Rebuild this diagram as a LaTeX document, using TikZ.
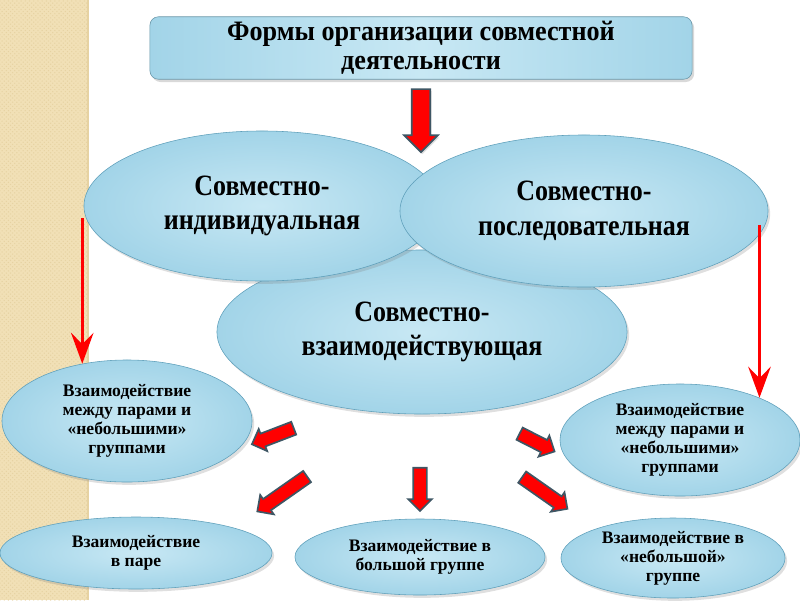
\documentclass[tikz,border=0pt]{standalone}
\usepackage{fontspec}
\setmainfont{Liberation Serif}
\newfontfamily\narrowserif{Liberation Serif}[FakeStretch=0.88]
\newfontfamily\titleserif{Liberation Serif}[FakeStretch=0.93]
\usetikzlibrary{shapes.geometric,shapes.arrows,shadows,patterns,arrows.meta}

\definecolor{skyLight}{HTML}{C8E8F4}
\definecolor{skyDeep}{HTML}{A2D4E8}
\definecolor{skyLine}{HTML}{5E9FBA}
\definecolor{sand}{HTML}{F1E0B6}
\definecolor{sandDot}{HTML}{E6D2A2}
\definecolor{arrowRed}{HTML}{FF0000}
\definecolor{arrowEdge}{HTML}{3E5664}

\begin{document}
\begin{tikzpicture}[x=0.025cm,y=-0.025cm,>=stealth]
    \tikzstyle{blob}=[ellipse, draw=skyLine, inner color=skyLight, outer color=skyDeep, align=center, inner sep=0pt, drop shadow={opacity=0.25,shadow xshift=1.5pt,shadow yshift=-2pt}]
    \tikzstyle{bigtext}=[font=\narrowserif\fontsize{21}{24.5}\selectfont\bfseries]
    \tikzstyle{smalltext}=[font=\fontsize{12.5}{13.5}\selectfont\bfseries]
    \tikzstyle{fat}=[single arrow, draw=arrowEdge, fill=arrowRed, line width=1.2pt, inner sep=0.15cm, single arrow head extend=0.125cm, minimum width=0.55cm]
    \tikzstyle{thin}=[draw=arrowRed, line width=2.2pt, -{Stealth[length=22pt,width=16pt,inset=8pt]}]

    \useasboundingbox (0,0) rectangle (800,600);
    \fill[sand] (0,0) rectangle (88,600);
    \fill[pattern=crosshatch dots, pattern color=sandDot] (0,0) rectangle (88,600);
    \draw[sandDot, line width=1pt] (88,0) -- (88,600);

    \node[draw=skyLine!70!gray, rounded corners=6pt, left color=skyDeep, right color=skyDeep, middle color=skyLight, minimum width=13.55cm, minimum height=1.5cm, align=center, font=\titleserif\fontsize{20}{20.5}\selectfont\bfseries, drop shadow={opacity=0.3,shadow xshift=1.5pt,shadow yshift=-2pt}] (title) at (421,48)
    {Формы организации совместной\\деятельности};

    \node[blob, bigtext, minimum width=10.25cm, minimum height=4.1cm] (interact) at (422,332)
    {Совместно-\\взаимодействующая};
    \node[blob, bigtext, minimum width=8.9cm, minimum height=3.75cm] (indiv) at (262,206)
    {Совместно-\\индивидуальная};
    \node[blob, bigtext, minimum width=9.2cm, minimum height=3.8cm] (consec) at (584,211)
    {Совместно-\\последовательная};

    \node[blob, smalltext, minimum width=6.25cm, minimum height=3.05cm] (pairsL) at (127,421)
    {Взаимодействие\\между парами и\\«небольшими»\\группами};
    \node[blob, smalltext, minimum width=6cm, minimum height=2.8cm] (pairsR) at (680,440)
    {Взаимодействие\\между парами и\\«небольшими»\\группами};
    \node[blob, smalltext, minimum width=6.8cm, minimum height=1.8cm] (pair) at (136,553)
    {Взаимодействие\\в паре};
    \node[blob, smalltext, minimum width=6.25cm, minimum height=1.9cm] (bigGroup) at (420,557)
    {Взаимодействие в\\большой группе};
    \node[blob, smalltext, minimum width=5.6cm, minimum height=2cm] (smallGroup) at (673,558)
    {Взаимодействие в\\«небольшой»\\группе};

    \node[fat, minimum height=1.575cm, minimum width=0.8cm, inner sep=0.21cm, single arrow head extend=0.19cm, rotate=270, drop shadow={opacity=0.25,shadow xshift=1pt,shadow yshift=-1.5pt}] (arTop) at (421,116) {};
    \node[fat, minimum height=1.12cm, rotate=201] (ar1) at (276,435) {};
    \node[fat, minimum height=1.52cm, rotate=215] (ar2) at (285,492) {};
    \node[fat, minimum height=1.08cm, rotate=270] (ar3) at (420,486) {};
    \node[fat, minimum height=0.98cm, rotate=-27] (ar4) at (534,441) {};
    \node[fat, minimum height=1.38cm, rotate=-35] (ar5) at (542,491) {};

    \draw[thin] ([yshift=-0.3cm]pairsL.128 |- indiv.west) -- (pairsL.128);
    \draw[thin] ([yshift=-0.35cm]pairsR.28 |- consec.east) -- (pairsR.28);
  \end{tikzpicture}
\end{document}
